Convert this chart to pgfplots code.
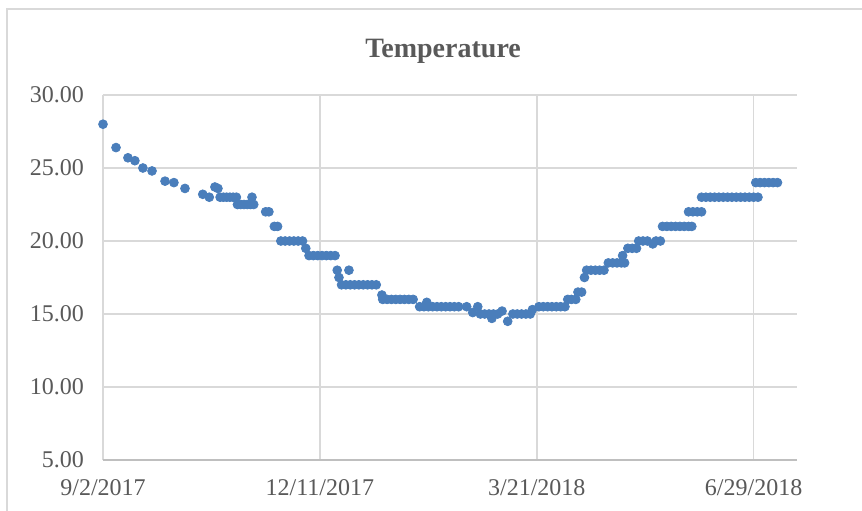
\documentclass[border=0pt]{standalone}
\usepackage{fontspec}
\setmainfont{Liberation Serif}
\usepackage{pgfplots}
\pgfplotsset{compat=1.18}
\definecolor{gridc}{HTML}{D9D9D9}
\definecolor{axc}{HTML}{BFBFBF}
\definecolor{txt}{HTML}{595959}
\definecolor{dot}{HTML}{4A7EBB}
\begin{document}
\begin{tikzpicture}
\useasboundingbox (-51.5pt,-25pt) rectangle (379.5pt,230pt);
\draw[gridc, line width=0.75pt] (-48pt,-30pt) -- (-48pt,225.5pt) -- (385pt,225.5pt);
\begin{axis}[
  at={(0,0)}, anchor=south west,
  scale only axis, width=347pt, height=182.5pt,
  xmin=0, xmax=320, ymin=5, ymax=30,
  xtick={0,100,200,300},
  xticklabels={9/2/2017,12/11/2017,3/21/2018,6/29/2018},
  ytick={5,10,15,20,25,30},
  y tick label style={/pgf/number format/fixed,/pgf/number format/fixed zerofill,/pgf/number format/precision=2,/pgf/number format/assume math mode=true, xshift=-6pt},
  x tick label style={yshift=-6pt},
  ticklabel style={font=\fontsize{12}{14}\selectfont, text=txt},
  grid=major, major grid style={gridc, line width=0.75pt},
  axis line style={draw=none}, tick style={draw=none},
  title={Temperature},
  title style={font=\bfseries\fontsize{14}{16}\selectfont, text=txt, at={(0.49,1.0855)}, anchor=center},
  clip=false,
]
\draw[axc, line width=0.75pt] (rel axis cs:0,0) -- (rel axis cs:1,0);
\addplot[only marks, mark=*, mark size=2.2pt, color=dot] coordinates {
(0,28.0) (6,26.4) (11.5,25.7) (14.7,25.5) (18.4,25.0) (22.6,24.8) (28.6,24.1) (32.7,24.0) (37.8,23.6)
(46,23.2) (49,23.0) (51.6,23.7) (53,23.6)
(54,23.0) (55.5,23.0) (57,23.0) (58.5,23.0) (60,23.0) (61.5,23.0)
(62,22.5) (63.5,22.5) (65,22.5) (66.5,22.5) (68,22.5) (69.5,22.5) (68.7,23.0)
(75,22.0) (76.5,22.0)
(79,21.0) (80.5,21.0)
(82,20.0) (84,20.0) (86,20.0) (88,20.0) (90,20.0) (92,20.0)
(93.5,19.5)
(95,19.0) (97,19.0) (99,19.0) (101,19.0) (103,19.0) (105,19.0) (107,19.0)
(108,18.0) (108.8,17.5) (110,17.0) (112,17.0) (113.4,18.0) (114,17.0) (116,17.0) (118,17.0) (120,17.0) (122,17.0) (124,17.0) (126,17.0)
(128.6,16.3) (129,16.0) (131,16.0) (133,16.0) (135,16.0) (137,16.0) (139,16.0) (141,16.0) (143,16.0)
(146,15.5) (148,15.5) (149.3,15.8) (150,15.5) (152,15.5) (154,15.5) (156,15.5) (158,15.5) (160,15.5) (162,15.5) (164,15.5)
(167.7,15.5) (170.5,15.1) (172.8,15.5) (174,15.0) (176,15.0) (178,15.0) (179.3,14.7) (180,15.0) (182,15.0) (184,15.2) (186.6,14.5)
(189,15.0) (191,15.0) (193,15.0) (195,15.0) (197,15.0) (198,15.3)
(201,15.5) (203,15.5) (205,15.5) (207,15.5) (209,15.5) (211,15.5) (213,15.5)
(214.3,16.0) (216,16.0) (218,16.0)
(219,16.5) (220.7,16.5)
(222,17.5)
(223,18.0) (225,18.0) (227,18.0) (229,18.0) (231,18.0)
(233,18.5) (235,18.5) (237,18.5) (239,18.5) (240.5,18.5)
(239.6,19.0)
(242,19.5) (244,19.5) (246,19.5)
(247,20.0) (249,20.0) (251,20.0) (253.5,19.8) (255,20.0) (257,20.0)
(258,21.0) (260,21.0) (262,21.0) (264,21.0) (266,21.0) (268,21.0) (270,21.0) (271.5,21.0)
(270,22.0) (272,22.0) (274,22.0) (276,22.0)
(276,23.0) (278,23.0) (280,23.0) (282,23.0) (284,23.0) (286,23.0) (288,23.0) (290,23.0) (292,23.0) (294,23.0) (296,23.0) (298,23.0) (300,23.0) (302,23.0)
(301,24.0) (303,24.0) (305,24.0) (307,24.0) (309,24.0) (311,24.0)
};
\end{axis}
\end{tikzpicture}
\end{document}
